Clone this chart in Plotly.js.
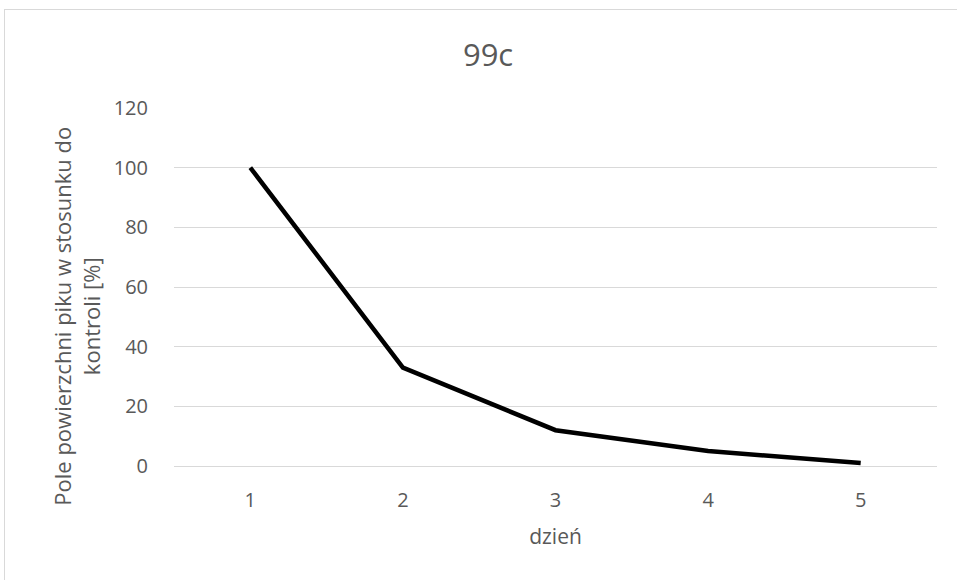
<!DOCTYPE html>
<html>
<head>
<meta charset="utf-8">
<script src="https://cdn.plot.ly/plotly-3.0.1.min.js"></script>
<style>
  html, body { margin: 0; padding: 0; overflow: hidden; background: #fff; }
  #frame { position: absolute; left: 4px; top: 9px; width: 1200px; height: 1200px; border: 1px solid #d9d9d9; box-sizing: border-box; pointer-events: none; z-index: 5; }
  #chart { width: 957px; height: 580px; }
</style>
</head>
<body>
<div id="frame"></div>
<div id="chart"></div>
<script>
const days = ['1', '2', '3', '4', '5'];
const values = [100, 33, 12, 5, 1];
const yTicks = [0, 20, 40, 60, 80, 100, 120];

const chartTitle = '99c';
const xTitle = 'dzień';
const yTitle = 'Pole powierzchni piku w stosunku do<br>kontroli [%]';

const font = '"Open Sans", "Noto Sans", sans-serif';
const grey = '#595959';

Plotly.newPlot('chart', [{
  type: 'scatter',
  mode: 'lines',
  x: days,
  y: values,
  line: { color: '#000000', width: 4.5 },
  hoverinfo: 'x+y'
}], {
  width: 957,
  height: 580,
  paper_bgcolor: '#ffffff',
  plot_bgcolor: '#ffffff',
  margin: { l: 174, r: 20, t: 108, b: 114 },
  showlegend: false,
  title: {
    text: chartTitle,
    font: { family: font, size: 31, color: grey },
    x: 0.51, xanchor: 'center',
    y: 0.905, yanchor: 'middle'
  },
  annotations: [{
    text: yTitle,
    xref: 'paper', yref: 'paper',
    x: -0.128, y: 0.418,
    xanchor: 'center', yanchor: 'middle',
    textangle: -90,
    showarrow: false,
    font: { family: font, size: 22, color: grey }
  }],
  xaxis: {
    type: 'category',
    range: [-0.5, 4.5],
    showgrid: false,
    zeroline: false,
    showline: true,
    linecolor: '#d9d9d9',
    linewidth: 1,
    ticks: '',
    ticklabelstandoff: 16,
    tickfont: { family: font, size: 20, color: grey },
    title: { text: xTitle, font: { family: font, size: 21, color: grey }, standoff: 17 }
  },
  yaxis: {
    range: [0, 120],
    tickvals: yTicks,
    ticktext: yTicks.map(String),
    showgrid: true,
    gridcolor: '#d9d9d9',
    gridwidth: 1,
    zeroline: false,
    showline: false,
    ticks: '',
    ticklabelstandoff: 25,
    tickfont: { family: font, size: 20, color: grey }
  }
}, { displayModeBar: false, staticPlot: true });
</script>
</body>
</html>
